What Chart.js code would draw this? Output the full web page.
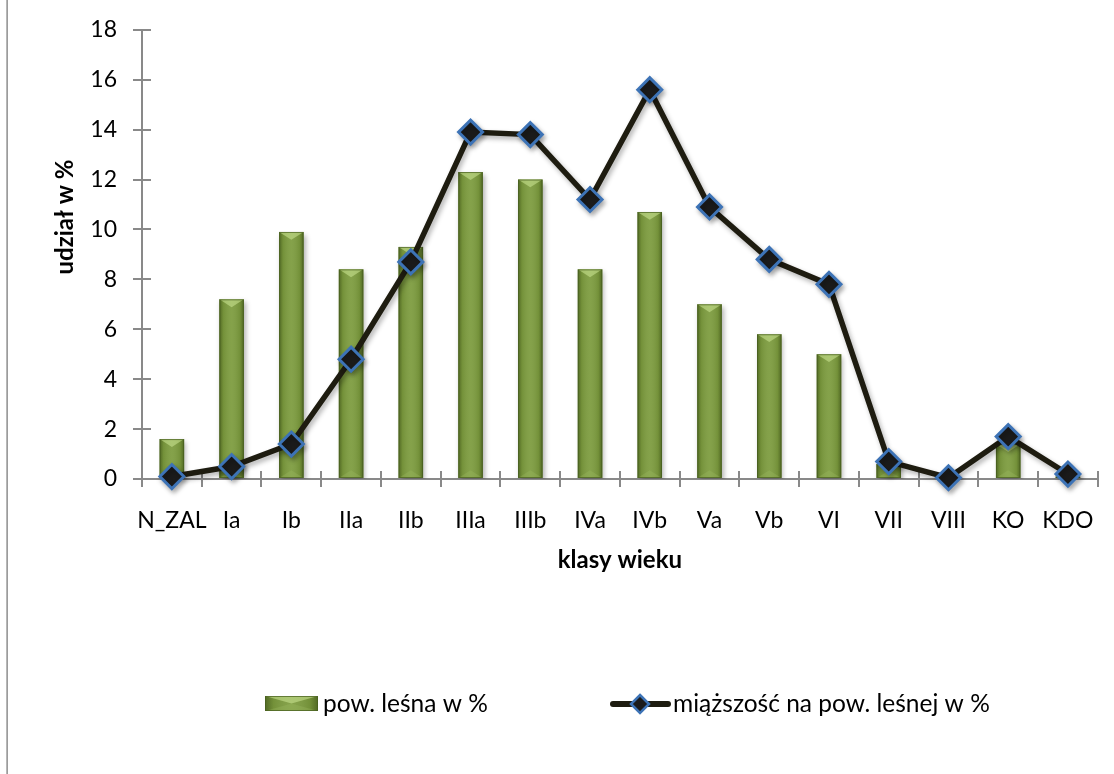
<!DOCTYPE html>
<html>
<head>
<meta charset="utf-8">
<title>Klasy wieku</title>
<script src="https://cdn.jsdelivr.net/npm/chart.js@4/dist/chart.umd.min.js"></script>
<style>
  html, body { margin: 0; padding: 0; background: #ffffff; }
  #wrap { position: relative; width: 1114px; height: 774px; overflow: hidden; }
  #wrap canvas { position: absolute; left: 0; top: 0; }
  #frame { position: absolute; left: 6px; top: 0; width: 2px; height: 774px;
           background: linear-gradient(to right, #c4c4c4, #8e8e8e); }
</style>
</head>
<body>
<div id="wrap">
  <canvas id="chart" width="1114" height="774"></canvas>
  <div id="frame"></div>
</div>
<script>
// Age classes on the category axis
const ageClasses = ['N_ZAL', 'Ia', 'Ib', 'IIa', 'IIb', 'IIIa', 'IIIb', 'IVa', 'IVb', 'Va', 'Vb', 'VI', 'VII', 'VIII', 'KO', 'KDO'];

// Share of forest area per age class (%)
const forestAreaPct = [1.6, 7.2, 9.9, 8.4, 9.3, 12.3, 12.0, 8.4, 10.7, 7.0, 5.8, 5.0, 0.6, 0.0, 1.4, 0.1];

// Share of growing stock volume on forest area per age class (%)
const volumePct = [0.1, 0.5, 1.4, 4.8, 8.7, 13.9, 13.8, 11.2, 15.6, 10.9, 8.8, 7.8, 0.7, 0.05, 1.7, 0.2];

// Value axis
const yMin = 0;
const yMax = 18;
const yStep = 2;

// Texts
const areaLabel = 'pow. leśna w %';
const volumeLabel = 'miąższość na pow. leśnej w %';
const xTitle = 'klasy wieku';
const yTitle = 'udział w %';

const FONT = 'Lato, "Open Sans", sans-serif';
const AXIS_GREY = '#898989';
const LINE_DARK = '#1e1c10';
const MARKER_BLUE = '#3d73b6';
const BAR_GREEN = '#7d9c3f';

// Soft drop shadow under each dataset, bevel shading on top of the bars
const shadePlugin = {
  id: 'shade',
  beforeDatasetDraw(chart) {
    const ctx = chart.ctx;
    ctx.save();
    ctx.shadowColor = 'rgba(0,0,0,0.30)';
    ctx.shadowBlur = 5;
    ctx.shadowOffsetX = 2;
    ctx.shadowOffsetY = 3;
  },
  afterDatasetDraw(chart, args) {
    const ctx = chart.ctx;
    ctx.restore();
    if (args.meta.type !== 'bar') return;
    args.meta.data.forEach(el => {
      const p = el.getProps(['x', 'y', 'base', 'width'], true);
      const top = Math.min(p.y, p.base);
      const bot = Math.max(p.y, p.base);
      const h = bot - top;
      if (h < 0.5) return;
      drawBevel(ctx, p.x - p.width / 2, top, p.width, h);
    });
  }
};

function drawBevel(ctx, l, top, w, h) {
  const r = l + w;
  const cx = l + w / 2;
  ctx.save();
  const g = ctx.createLinearGradient(l, 0, r, 0);
  g.addColorStop(0, 'rgba(45,62,14,0.55)');
  g.addColorStop(0.16, 'rgba(45,62,14,0.12)');
  g.addColorStop(0.5, 'rgba(255,255,255,0.06)');
  g.addColorStop(0.84, 'rgba(45,62,14,0.12)');
  g.addColorStop(1, 'rgba(45,62,14,0.55)');
  ctx.fillStyle = g;
  ctx.fillRect(l, top, w, h);
  const bv = Math.min(w * 0.32, h / 2);
  // lit top facet
  ctx.beginPath();
  ctx.moveTo(l, top);
  ctx.lineTo(r, top);
  ctx.lineTo(cx, top + bv);
  ctx.closePath();
  ctx.fillStyle = 'rgba(205,232,150,0.55)';
  ctx.fill();
  // faint bottom facet
  ctx.beginPath();
  ctx.moveTo(l, top + h);
  ctx.lineTo(r, top + h);
  ctx.lineTo(cx, top + h - bv);
  ctx.closePath();
  ctx.fillStyle = 'rgba(160,190,100,0.30)';
  ctx.fill();
  ctx.strokeStyle = 'rgba(70,92,30,0.7)';
  ctx.lineWidth = 1;
  ctx.strokeRect(l + 0.5, top + 0.5, w - 1, h - 1);
  ctx.restore();
}

// Tick marks that cross the axis lines (inner half)
const crossTicks = {
  id: 'crossTicks',
  beforeDatasetsDraw(chart) {
    const {ctx, scales: {x, y}} = chart;
    ctx.save();
    ctx.strokeStyle = AXIS_GREY;
    ctx.lineWidth = 2;
    ctx.beginPath();
    y.ticks.forEach((t, i) => {
      const py = Math.round(y.getPixelForTick(i));
      ctx.moveTo(x.left, py);
      ctx.lineTo(x.left + 9, py);
    });
    const n = ageClasses.length;
    for (let i = 1; i <= n; i++) {
      const px = Math.round(x.left + i * (x.right - x.left) / n);
      ctx.moveTo(px, y.bottom);
      ctx.lineTo(px, y.bottom - 8);
    }
    ctx.stroke();
    ctx.restore();
  }
};

// Rotated value-axis caption
const yCaption = {
  id: 'yCaption',
  afterDraw(chart) {
    const ctx = chart.ctx;
    ctx.save();
    ctx.translate(65, 217);
    ctx.rotate(-Math.PI / 2);
    ctx.font = 'bold 24px ' + FONT;
    ctx.fillStyle = '#000';
    ctx.textAlign = 'center';
    ctx.textBaseline = 'middle';
    ctx.fillText(yTitle, 0, 0);
    ctx.restore();
  }
};

// Legend row under the chart
const legendRow = {
  id: 'legendRow',
  afterDraw(chart) {
    const ctx = chart.ctx;
    const cy = 704;
    ctx.save();
    // bar swatch
    ctx.fillStyle = BAR_GREEN;
    ctx.fillRect(265, cy - 8, 53, 15);
    drawBevel(ctx, 265, cy - 8, 53, 15);
    // line swatch with marker
    ctx.strokeStyle = LINE_DARK;
    ctx.lineWidth = 6;
    ctx.lineCap = 'round';
    ctx.beginPath();
    ctx.moveTo(613, cy);
    ctx.lineTo(668, cy);
    ctx.stroke();
    ctx.beginPath();
    ctx.moveTo(640, cy - 9);
    ctx.lineTo(649, cy);
    ctx.lineTo(640, cy + 9);
    ctx.lineTo(631, cy);
    ctx.closePath();
    ctx.fillStyle = '#1b1b1b';
    ctx.fill();
    ctx.lineWidth = 2.5;
    ctx.lineCap = 'butt';
    ctx.strokeStyle = MARKER_BLUE;
    ctx.stroke();
    // labels
    ctx.font = '24.5px ' + FONT;
    ctx.fillStyle = '#000';
    ctx.textAlign = 'left';
    ctx.textBaseline = 'middle';
    ctx.fillText(chart.data.datasets[1].label, 323, cy);
    ctx.fillText(chart.data.datasets[0].label, 673, cy);
    ctx.restore();
  }
};

new Chart(document.getElementById('chart'), {
  data: {
    labels: ageClasses,
    datasets: [
      {
        type: 'line',
        label: volumeLabel,
        data: volumePct,
        order: 0,
        borderColor: LINE_DARK,
        borderWidth: 5.5,
        tension: 0,
        pointStyle: 'rectRot',
        pointRadius: 12,
        pointBackgroundColor: '#1b1b1b',
        pointBorderColor: MARKER_BLUE,
        pointBorderWidth: 3,
        clip: false
      },
      {
        type: 'bar',
        label: areaLabel,
        data: forestAreaPct,
        order: 1,
        backgroundColor: BAR_GREEN,
        borderWidth: 0,
        categoryPercentage: 1,
        barPercentage: 0.41
      }
    ]
  },
  options: {
    responsive: false,
    animation: false,
    layout: { padding: { left: 0, top: 28, right: 16, bottom: 195 } },
    plugins: {
      legend: { display: false },
      tooltip: { enabled: false }
    },
    scales: {
      x: {
        type: 'category',
        offset: true,
        grid: { offset: true, drawOnChartArea: false, drawTicks: true, tickLength: 8, color: AXIS_GREY, lineWidth: 2 },
        border: { display: true, color: AXIS_GREY, width: 2 },
        ticks: { font: { family: FONT, size: 23 }, color: '#000', padding: 20, maxRotation: 0, autoSkip: false },
        title: { display: true, text: xTitle, font: { family: FONT, size: 24, weight: 'bold' }, color: '#000', padding: { top: 0, bottom: 4 } },
        afterFit(scale) { scale.height = 100; }
      },
      y: {
        min: yMin,
        max: yMax,
        grid: { drawOnChartArea: false, drawTicks: true, tickLength: 9, color: AXIS_GREY, lineWidth: 2 },
        border: { display: true, color: AXIS_GREY, width: 2 },
        ticks: { stepSize: yStep, font: { family: FONT, size: 23 }, color: '#000', padding: 16 },
        afterFit(scale) { scale.width = 142; }
      }
    }
  },
  plugins: [shadePlugin, crossTicks, yCaption, legendRow]
});
</script>
</body>
</html>
